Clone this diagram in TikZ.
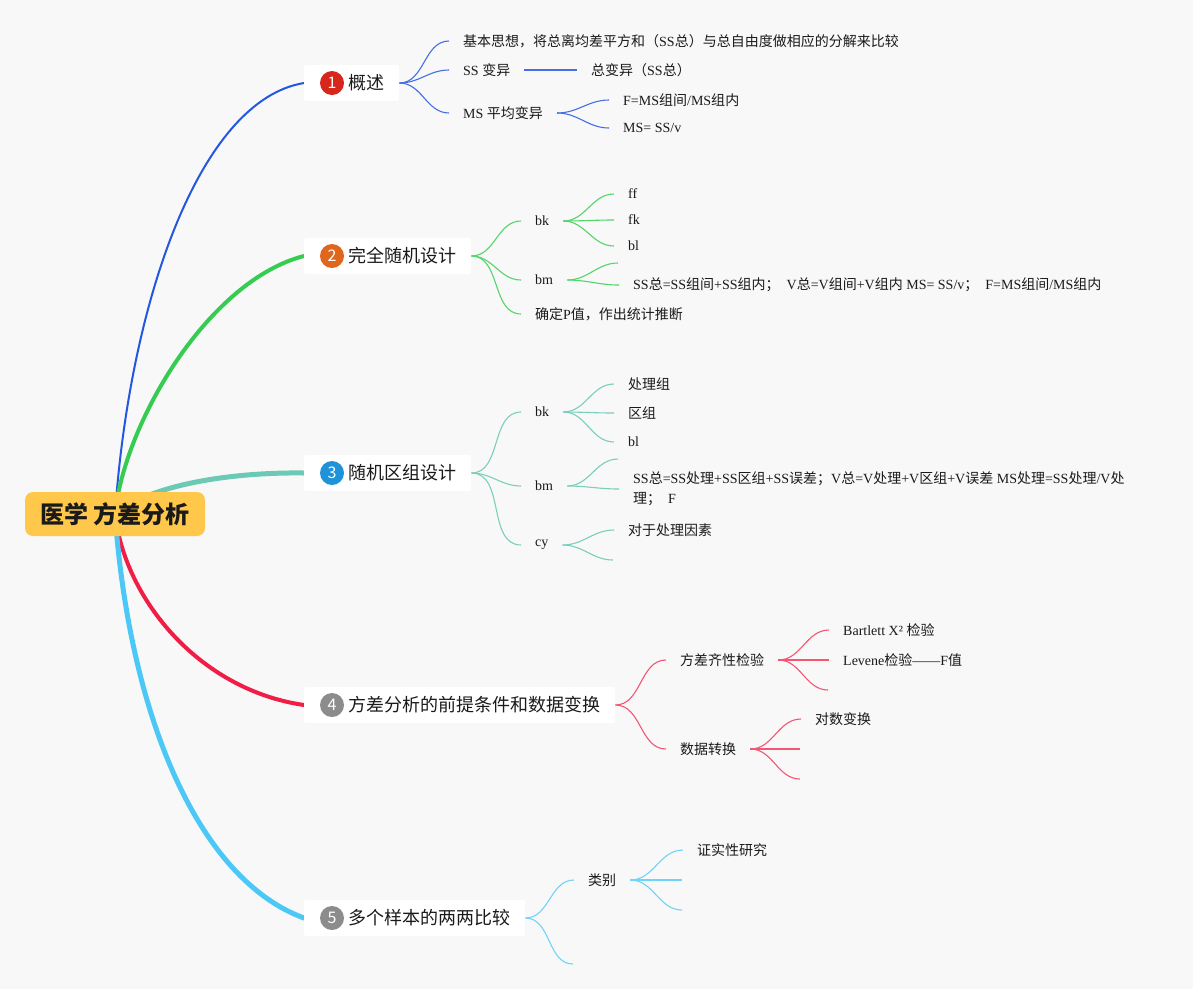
\documentclass[tikz,border=0pt]{standalone}
\usepackage{fontspec}
\setmainfont{Liberation Serif}
\newfontfamily\cjk{Noto Sans CJK SC}
\newcommand{\zh}[1]{{\cjk #1}}
\usepackage{xcolor}
\usepackage{tikz}
\usetikzlibrary{backgrounds}

\definecolor{nen}{HTML}{F8F8F8}
\definecolor{chu}{HTML}{1A1A1A}
\definecolor{vang}{HTML}{FFC84B}
\definecolor{xanhduong}{HTML}{2457E0}
\definecolor{xanhla}{HTML}{36CC52}
\definecolor{ngoc}{HTML}{6CC9B5}
\definecolor{do}{HTML}{F01E46}
\definecolor{troi}{HTML}{4CC8F6}
\definecolor{so1}{HTML}{D7261B}
\definecolor{so2}{HTML}{E0661E}
\definecolor{so3}{HTML}{1E93DA}
\definecolor{so4}{HTML}{8C8C8C}

\begin{document}
\begin{tikzpicture}[x=1pt, y=-1pt,
    lbl/.style={anchor=west, inner xsep=14pt, inner ysep=2pt, text=chu, font=\fontsize{14}{20}\selectfont},
    topic/.style={anchor=west, fill=white, rounded corners=2pt, minimum height=36pt, inner xsep=15pt, text=chu, font=\cjk\fontsize{18}{22}\selectfont},
    num/.style={circle, minimum size=24pt, inner sep=0pt, text=white, font=\cjk\fontsize{16}{16}\selectfont},
    mainln/.style={line cap=round},
    subln/.style={line width=1.1pt}]
    \useasboundingbox (0,0) rectangle (1193,989);

    % Nút gốc
    \node[fill=vang, rounded corners=8pt, minimum width=180pt, minimum height=44pt, text=chu,
        font=\cjk\bfseries\fontsize{24}{28}\selectfont] (goc) at (115,514) {医学 方差分析};

    % Các chủ đề chính
    \node[topic] (t1) at (304,83) {\hspace*{29pt}概述};
    \node[num, fill=so1] (n1) at (332,83) {1};
    \node[topic] (t2) at (304,256) {\hspace*{29pt}完全随机设计};
    \node[num, fill=so2] (n2) at (332,256) {2};
    \node[topic] (t3) at (304,473) {\hspace*{29pt}随机区组设计};
    \node[num, fill=so3] (n3) at (332,473) {3};
    \node[topic] (t4) at (304,705) {\hspace*{29pt}方差分析的前提条件和数据变换};
    \node[num, fill=so4] (n4) at (332,705) {4};
    \node[topic] (t5) at (304,918) {\hspace*{29pt}多个样本的两两比较};
    \node[num, fill=so4] (n5) at (332,918) {5};

    % Nhánh 1
    \node[lbl] (a1) at (449,41) {\zh{基本思想，将总离均差平方和（}SS\zh{总）与总自由度做相应的分解来比较}};
    \node[lbl] (a2) at (449,70) {SS \zh{变异}};
    \node[lbl] (a3) at (449,113) {MS \zh{平均变异}};
    \node[lbl] (a21) at (577,70) {\zh{总变异（}SS\zh{总）}};
    \node[lbl] (a31) at (609,100) {F=MS\zh{组间}/MS\zh{组内}};
    \node[lbl] (a32) at (609,128) {MS= SS/v};

    % Nhánh 2
    \node[lbl] (b1) at (521,221) {bk};
    \node[lbl] (b2) at (521,280) {bm};
    \node[lbl] (b3) at (521,314) {\zh{确定}P\zh{值，作出统计推断}};
    \node[lbl] (b11) at (614,194) {ff};
    \node[lbl] (b12) at (614,220) {fk};
    \node[lbl] (b13) at (614,246) {bl};
    \coordinate (b2e) at (618,263);
    \node[lbl] (b21) at (619,285) {SS\zh{总}=SS\zh{组间}+SS\zh{组内；}\ \ V\zh{总}=V\zh{组间}+V\zh{组内} MS= SS/v\zh{；}\ \ F=MS\zh{组间}/MS\zh{组内}};

    % Nhánh 3
    \node[lbl] (c1) at (521,412) {bk};
    \node[lbl] (c2) at (521,486) {bm};
    \node[lbl] (c3) at (521,545) {cy};
    \node[lbl] (c11) at (614,384) {\zh{处理组}};
    \node[lbl] (c12) at (614,413) {\zh{区组}};
    \node[lbl] (c13) at (614,442) {bl};
    \coordinate (c2e) at (618,459);
    \node[lbl, align=left] (c21) at (619,489) {SS\zh{总}=SS\zh{处理}+SS\zh{区组}+SS\zh{误差；}V\zh{总}=V\zh{处理}+V\zh{区组}+V\zh{误差} MS\zh{处理}=SS\zh{处理}/V\zh{处}\\\zh{理；}\ \ F};
    \node[lbl] (c31) at (614,530) {\zh{对于处理因素}};
    \coordinate (c3e) at (613,560);

    % Nhánh 4
    \node[lbl] (d1) at (666,660) {\zh{方差齐性检验}};
    \node[lbl] (d2) at (666,749) {\zh{数据转换}};
    \node[lbl] (d11) at (829,630) {Bartlett X² \zh{检验}};
    \node[lbl] (d12) at (829,660) {Levene\zh{检验}——F\zh{值}};
    \coordinate (d1e) at (828,690);
    \node[lbl] (d21) at (801,719) {\zh{对数变换}};
    \coordinate (d2e1) at (800,749);
    \coordinate (d2e2) at (800,779);

    % Nhánh 5
    \node[lbl] (e1) at (574,880) {\zh{类别}};
    \coordinate (e2) at (573,964);
    \node[lbl] (e11) at (683,850) {\zh{证实性研究}};
    \coordinate (e1e1) at (682,880);
    \coordinate (e1e2) at (682,910);

    \begin{scope}[on background layer]
        \fill[nen] (0,0) rectangle (1193,989);
        % Đường nối chính
        \draw[mainln, xanhduong, line width=2pt] (goc.center) .. controls (130,300) and (200,100) .. (t1.west);
        \draw[mainln, xanhla, line width=4pt] (goc.center) .. controls (125,420) and (210,280) .. (t2.west);
        \draw[mainln, ngoc, line width=5pt] (goc.center) .. controls (150,485) and (230,472) .. (t3.west);
        \draw[mainln, do, line width=4pt] (goc.center) .. controls (125,600) and (200,690) .. (t4.west);
        \draw[mainln, troi, line width=5pt] (goc.center) .. controls (130,720) and (200,880) .. (t5.west);
        % Đường nối phụ
        \foreach \c in {a1.west, a2.west, a3.west}
            \draw[subln, xanhduong!85] (t1.east) to[out=0, in=180] (\c);
        \draw[subln, xanhduong!85] (a2.east) -- (a21.west);
        \foreach \c in {a31.west, a32.west}
            \draw[subln, xanhduong!85] (a3.east) to[out=0, in=180] (\c);
        \foreach \c in {b1.west, b2.west, b3.west}
            \draw[subln, xanhla!85] (t2.east) to[out=0, in=180] (\c);
        \foreach \c in {b11.west, b12.west, b13.west}
            \draw[subln, xanhla!85] (b1.east) to[out=0, in=180] (\c);
        \foreach \c in {b2e, b21.west}
            \draw[subln, xanhla!85] (b2.east) to[out=0, in=180] (\c);
        \foreach \c in {c1.west, c2.west, c3.west}
            \draw[subln, ngoc!90] (t3.east) to[out=0, in=180] (\c);
        \foreach \c in {c11.west, c12.west, c13.west}
            \draw[subln, ngoc!90] (c1.east) to[out=0, in=180] (\c);
        \foreach \c in {c2e, c21.west}
            \draw[subln, ngoc!90] (c2.east) to[out=0, in=180] (\c);
        \foreach \c in {c31.west, c3e}
            \draw[subln, ngoc!90] (c3.east) to[out=0, in=180] (\c);
        \foreach \c in {d1.west, d2.west}
            \draw[subln, do!75] (t4.east) to[out=0, in=180] (\c);
        \foreach \c in {d11.west, d12.west, d1e}
            \draw[subln, do!75] (d1.east) to[out=0, in=180] (\c);
        \foreach \c in {d21.west, d2e1, d2e2}
            \draw[subln, do!75] (d2.east) to[out=0, in=180] (\c);
        \foreach \c in {e1.west, e2}
            \draw[subln, troi!80] (t5.east) to[out=0, in=180] (\c);
        \foreach \c in {e11.west, e1e1, e1e2}
            \draw[subln, troi!80] (e1.east) to[out=0, in=180] (\c);
    \end{scope}
\end{tikzpicture}
\end{document}
